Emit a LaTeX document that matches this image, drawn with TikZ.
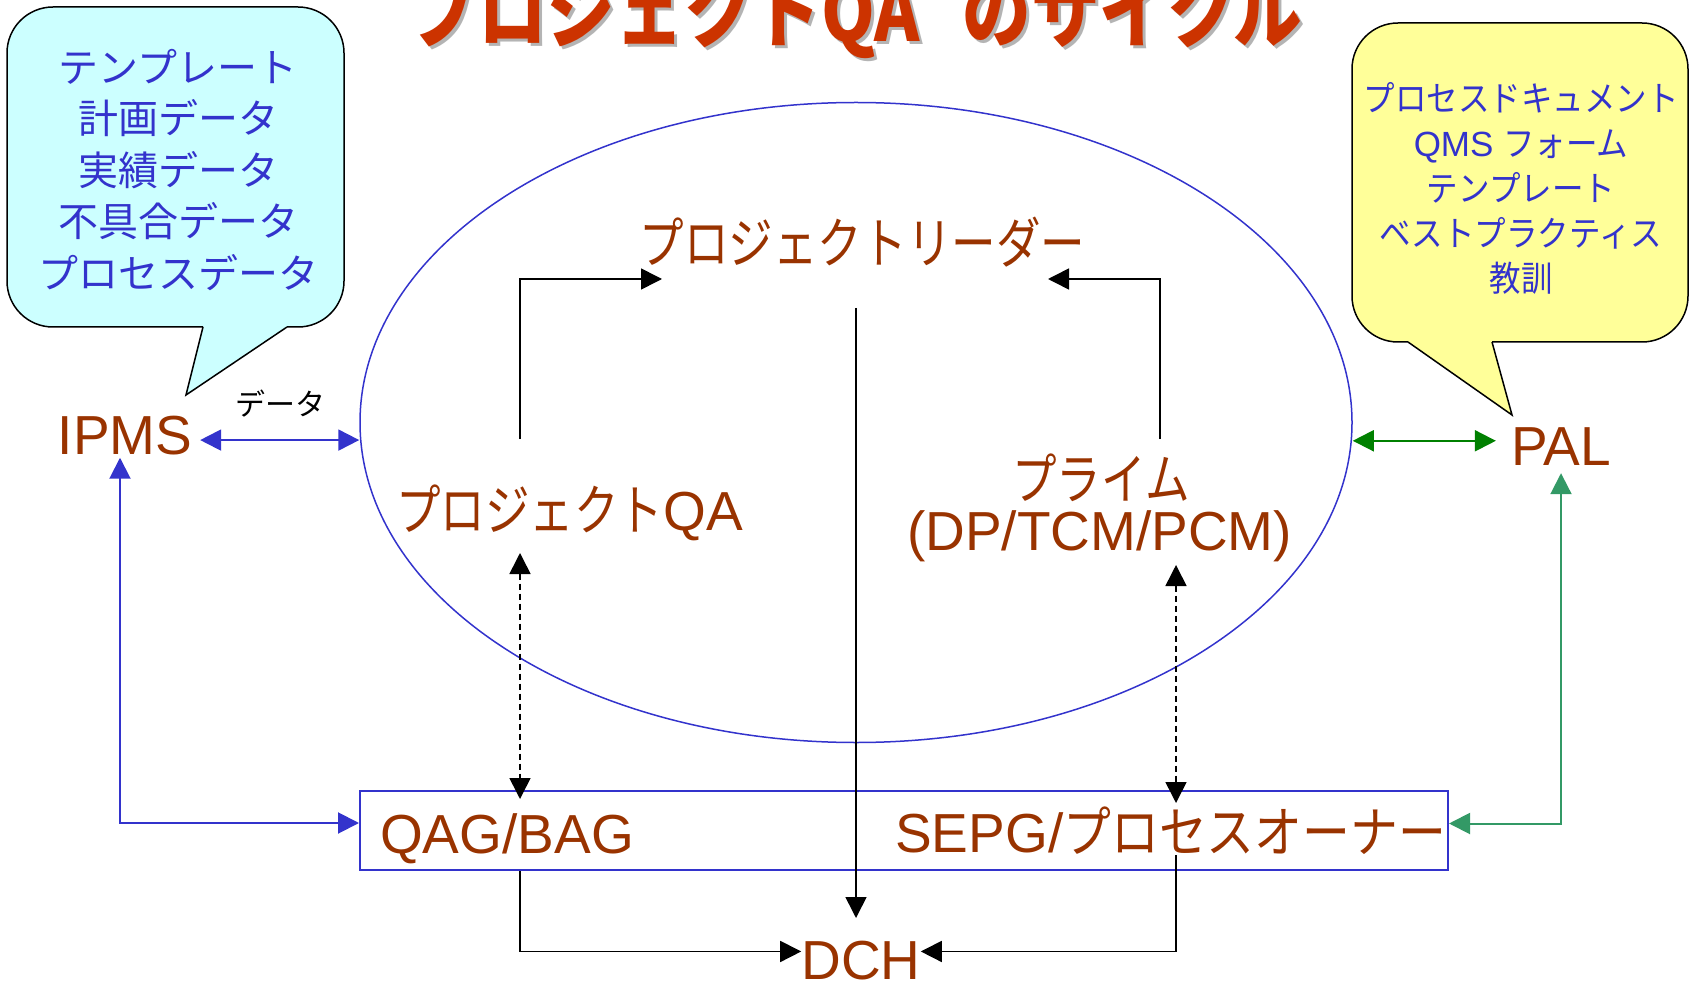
\documentclass[tikz,border=0pt]{standalone}
\usepackage{graphicx}
\usepackage{fontspec}
\setmainfont{Liberation Sans}
\newfontfamily\jp{Noto Sans CJK JP}
\usetikzlibrary{shapes.geometric,arrows.meta,calc}
\definecolor{titlec}{HTML}{CC3300}
\definecolor{shadowc}{HTML}{B4B4B4}
\definecolor{labc}{HTML}{993300}
\definecolor{bluec}{HTML}{3333CC}
\definecolor{cyanc}{HTML}{CCFFFF}
\definecolor{yellowc}{HTML}{FFFF99}
\definecolor{greenc}{HTML}{008000}
\definecolor{seac}{HTML}{339966}
\newcommand\jx[2][0.81]{\scalebox{#1}[1]{\jp #2}}
\newcommand\titletext{プロジェクトQA\hspace{52pt}のサイクル}
\begin{document}
\begin{tikzpicture}[x=1pt,y=-1pt,
  >={Triangle[length=21pt,width=21pt]},
  lbl/.style={text=labc, inner sep=0pt, font=\fontsize{55}{60}\selectfont},
  blk/.style={draw=black, line width=1.6pt},
  dsh/.style={blk, dash pattern=on 6pt off 4pt},
  bluearr/.style={draw=bluec, line width=2pt},
  greenarr/.style={draw=greenc, line width=2pt},
  seaarr/.style={draw=seac, line width=2pt},
  callout/.style={draw=black, line width=1.5pt, line join=miter},
  bubbletext/.style={text=bluec, align=center, inner sep=0pt}]
\useasboundingbox (0,0) rectangle (1694,981);
\clip (0,0) rectangle (1694,981);

% title
\node[anchor=base, text=shadowc, inner sep=0pt] (titleshadow) at (859,45)
  {\fontsize{82}{90}\selectfont\jp\bfseries\resizebox{892pt}{\height}{\titletext}};
\node[anchor=base, text=titlec, inner sep=0pt] (title) at (856,42)
  {\fontsize{82}{90}\selectfont\jp\bfseries\resizebox{892pt}{\height}{\titletext}};

% left callout
\fill[cyanc, rounded corners=46pt] (7,7) rectangle (344,327);
\fill[cyanc] (203,327) -- (186,395) -- (287,327) -- cycle;
\draw[callout, rounded corners=46pt] (287,327) -- (344,327) -- (344,7) -- (7,7) -- (7,327) -- (203,327);
\draw[callout] (203,327) -- (186,395) -- (287,327);
\node[bubbletext, font=\fontsize{40}{51.5}\selectfont\jp] (ltext) at (178,170)
  {テンプレート\\計画データ\\実績データ\\不具合データ\\プロセスデータ};

% right callout
\fill[yellowc, rounded corners=46pt] (1352,23) rectangle (1688,342);
\fill[yellowc] (1408,342) -- (1512,415) -- (1492,342) -- cycle;
\draw[callout, rounded corners=46pt] (1492,342) -- (1688,342) -- (1688,23) -- (1352,23) -- (1352,342) -- (1408,342);
\draw[callout] (1408,342) -- (1512,415) -- (1492,342);
\node[bubbletext, font=\fontsize{35}{45}\selectfont] (rtext) at (1521,188)
  {\jx[0.9]{プロセスドキュメント}\\QMS \jx[0.9]{フォーム}\\\jx[0.9]{テンプレート}\\\jx[0.9]{ベストプラクティス}\\\jx[0.9]{教訓}};

% main shapes
\node[draw=bluec, line width=1.5pt, ellipse, minimum width=992pt, minimum height=640pt, inner sep=0pt] (cyc) at (856,422.5) {};
\node[draw=bluec, line width=2pt, minimum width=1088pt, minimum height=79pt, inner sep=0pt] (box) at (904,830.5) {};

% labels
\node[lbl, anchor=base] (leader) at (862.5,264) {\jx{プロジェクトリーダー}};
\node[lbl, anchor=base west] (pqa) at (396,530) {\jx{プロジェクト}QA};
\node[lbl, anchor=base] (prime) at (1101,499) {\jx{プライム}};
\node[lbl, anchor=base] (dp) at (1099.5,550) {(DP/TCM/PCM)};
\node[lbl, anchor=base] (qag) at (507,853) {QAG/BAG};
\node[lbl, anchor=base west] (sepg) at (895,852) {SEPG/\jx[0.87]{プロセスオーナー}};
\node[lbl, anchor=base] (dch) at (861,979) {DCH};
\node[lbl, anchor=base, inner xsep=7.75pt, inner ysep=3pt] (ipms) at (125,454) {IPMS};
\node[lbl, anchor=base, inner xsep=15pt, inner ysep=8pt] (pal) at (1561,465) {PAL};
\node[text=black, inner sep=0pt, font=\fontsize{30}{34}\selectfont\jp] (dlabel) at (280,404) {データ};

% free ends
\coordinate (qaUp) at (520,439);
\coordinate (ldrL) at (662,279);
\coordinate (prUp) at (1160,439);
\coordinate (ldrR) at (1048,279);
\coordinate (ldrDown) at (856,308);
\coordinate (dchTop) at (856,918);
\coordinate (qaDash) at (520,553);
\coordinate (qagTop) at (520,799);
\coordinate (prDash) at (1176,565);
\coordinate (sepgTop) at (1176,803);
\coordinate (sepgLow) at (1176,855);

% connectors
\draw[blk, ->] (qaUp) |- (ldrL);
\draw[blk, ->] (prUp) |- (ldrR);
\draw[blk, ->] (ldrDown) -- (dchTop);
\draw[dsh, <->] (qaDash) -- (qagTop);
\draw[dsh, <->] (prDash) -- (sepgTop);
\draw[blk, ->] (box.south -| qaDash) |- ([yshift=8.6pt]dch.west);
\draw[blk, ->] (sepgLow) |- ([yshift=8.6pt]dch.east);

\draw[bluearr, <->] ([yshift=-5pt]ipms.east) -- ([yshift=-5pt]ipms.east -| cyc.west);
\draw[bluearr, <->] ([xshift=-5pt]ipms.south) |- ([yshift=7.5pt]box.west);
\draw[greenarr, <->] ([yshift=5.3pt]pal.west) -- ([yshift=5.3pt]pal.west -| cyc.east);
\draw[seaarr, <->] (pal.south) |- ([yshift=7pt]box.east);
\end{tikzpicture}
\end{document}
